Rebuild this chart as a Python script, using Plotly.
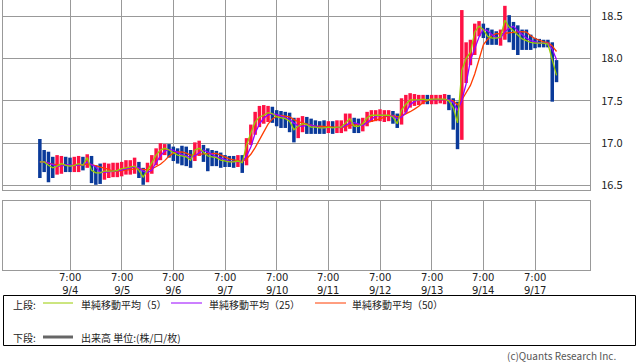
import plotly.graph_objects as go
import pandas as pd

# ---------------- data ----------------
# bar time = hours since 9/3 00:00 on a trading-time axis (weekend removed), 2-hour bars
bar_hour = list(range(17, 259, 2))

closes = [
    16.78, 16.78, 16.74, 16.71, 16.73, 16.76, 16.74, 16.73, 16.74, 16.76, 16.74, 16.83,
    16.68, 16.65, 16.65, 16.67, 16.67, 16.67, 16.68, 16.70, 16.71, 16.72, 16.73, 16.68,
    16.60, 16.68, 16.77, 16.86, 16.92, 16.94, 16.92, 16.89, 16.86, 16.85, 16.84, 16.80,
    16.92, 16.94, 16.90, 16.85, 16.84, 16.83, 16.80, 16.79, 16.78, 16.78, 16.79, 16.77,
    16.98, 17.12, 17.25, 17.31, 17.33, 17.36, 17.35, 17.31, 17.30, 17.29, 17.26, 17.16,
    17.20, 17.23, 17.22, 17.19, 17.19, 17.18, 17.18, 17.19, 17.18, 17.19, 17.19, 17.24,
    17.29, 17.20, 17.20, 17.23, 17.30, 17.33, 17.33, 17.33, 17.33, 17.33, 17.31, 17.23,
    17.39, 17.46, 17.51, 17.51, 17.51, 17.52, 17.51, 17.52, 17.52, 17.52, 17.52, 17.50,
    17.42, 17.24, 17.86, 18.00, 18.07, 18.31, 18.38, 18.34, 18.26, 18.24, 18.24, 18.25,
    18.45, 18.37, 18.32, 18.28, 18.23, 18.21, 18.19, 18.18, 18.18, 18.18, 18.17, 17.98,
    17.80,
]
highs = [
    17.05, 16.92, 16.90, 16.84, 16.86, 16.85, 16.84, 16.83, 16.84, 16.85, 16.84, 16.87,
    16.85, 16.74, 16.76, 16.77, 16.76, 16.77, 16.77, 16.78, 16.80, 16.80, 16.83, 16.78,
    16.71, 16.77, 16.86, 16.94, 17.00, 16.99, 16.99, 16.96, 16.94, 16.97, 16.96, 16.92,
    17.01, 17.03, 16.98, 16.94, 16.92, 16.91, 16.89, 16.86, 16.85, 16.85, 16.86, 16.86,
    17.06, 17.22, 17.37, 17.44, 17.45, 17.44, 17.43, 17.39, 17.38, 17.37, 17.36, 17.30,
    17.30, 17.32, 17.31, 17.29, 17.27, 17.26, 17.27, 17.26, 17.26, 17.27, 17.27, 17.35,
    17.35, 17.30, 17.29, 17.30, 17.37, 17.39, 17.39, 17.40, 17.39, 17.39, 17.38, 17.35,
    17.53, 17.57, 17.59, 17.58, 17.57, 17.57, 17.57, 17.57, 17.57, 17.57, 17.58, 17.57,
    17.53, 17.49, 18.57, 18.19, 18.22, 18.41, 18.44, 18.41, 18.36, 18.34, 18.32, 18.34,
    18.62, 18.51, 18.43, 18.39, 18.34, 18.34, 18.28, 18.24, 18.23, 18.22, 18.22, 18.19,
    17.98,
]
lows = [
    16.59, 16.66, 16.54, 16.59, 16.63, 16.64, 16.66, 16.66, 16.66, 16.66, 16.68, 16.71,
    16.53, 16.51, 16.52, 16.57, 16.59, 16.60, 16.60, 16.61, 16.63, 16.63, 16.64, 16.59,
    16.51, 16.54, 16.64, 16.74, 16.80, 16.86, 16.83, 16.79, 16.76, 16.74, 16.73, 16.71,
    16.79, 16.85, 16.78, 16.67, 16.73, 16.73, 16.71, 16.72, 16.72, 16.71, 16.72, 16.65,
    16.74, 16.98, 17.10, 17.19, 17.23, 17.25, 17.24, 17.20, 17.18, 17.18, 17.13, 17.01,
    17.06, 17.13, 17.11, 17.11, 17.11, 17.11, 17.11, 17.12, 17.11, 17.12, 17.12, 17.14,
    17.17, 17.12, 17.12, 17.14, 17.20, 17.25, 17.26, 17.26, 17.25, 17.26, 17.23, 17.18,
    17.22, 17.36, 17.42, 17.44, 17.45, 17.46, 17.46, 17.46, 17.46, 17.47, 17.46, 17.39,
    17.16, 16.93, 17.04, 17.71, 17.92, 18.04, 18.26, 18.24, 18.16, 18.16, 18.16, 18.15,
    18.22, 18.19, 18.10, 18.04, 18.10, 18.10, 18.10, 18.12, 18.13, 18.13, 18.13, 17.49,
    17.72,
]
first_open = 16.80
opens = [first_open] + closes[:-1]

assert len(closes) == len(highs) == len(lows) == len(bar_hour)

tick_hours = [31, 55, 79, 103, 127, 151, 175, 199, 223, 247]
tick_labels = ["7:00<br>9/4", "7:00<br>9/5", "7:00<br>9/6", "7:00<br>9/7", "7:00<br>9/10",
               "7:00<br>9/11", "7:00<br>9/12", "7:00<br>9/13", "7:00<br>9/14", "7:00<br>9/17"]
price_ticks = [16.5, 17.0, 17.5, 18.0, 18.5]
price_labels = ["16.5", "17.0", "17.5", "18.0", "18.5"]

ma_names = ["単純移動平均（5）", "単純移動平均（25）", "単純移動平均（50）"]
ma_windows = [1, 3, 6]          # windows expressed in 2-hour bars
ma_colors = ["#99cc00", "#9900ff", "#ff3c00"]

# ---------------- figure ----------------
W, H = 638, 362
ML, MR, MT, MB = 3, 48, 0, 92
PW, PH = W - ML - MR, H - MT - MB
def px2x(px): return (px - ML) / PW
def py2y(py): return 1 - (py - MT) / PH

RED, BLUE = "#ff1144", "#0a3a9a"
GRID = "#999999"
FONT = "Noto Sans CJK JP"
TICKFONT = "DejaVu Sans"

fig = go.Figure()
fig.add_trace(go.Ohlc(
    x=bar_hour, open=opens, high=highs, low=lows, close=closes,
    increasing=dict(line=dict(color=RED, width=3.5)),
    decreasing=dict(line=dict(color=BLUE, width=3.5)),
    tickwidth=0, xaxis="x2", yaxis="y", showlegend=False, hoverinfo="skip"))

s = pd.Series(closes)
for i in [2, 1, 0]:
    ma = s.rolling(ma_windows[i], min_periods=1).mean()
    fig.add_trace(go.Scatter(x=bar_hour, y=ma, mode="lines",
                             line=dict(color=ma_colors[i], width=1.3),
                             xaxis="x2", yaxis="y", showlegend=False, hoverinfo="skip"))

fig.add_trace(go.Scatter(x=[], y=[], xaxis="x", yaxis="y2", showlegend=False))

xr = [-0.12, 272.54]
fig.update_layout(
    width=W, height=H, margin=dict(l=ML, r=MR, t=MT, b=MB),
    paper_bgcolor="white", plot_bgcolor="white",
    font=dict(family=FONT, size=11, color="#222"),
    xaxis=dict(domain=[0, 1], anchor="y2", range=xr, tickmode="array",
               tickvals=tick_hours, showticklabels=False, showgrid=True,
               gridcolor=GRID, gridwidth=1, showline=True, mirror=True,
               linecolor=GRID, linewidth=1, zeroline=False,
               rangeslider=dict(visible=False)),
    xaxis2=dict(domain=[0, 1], anchor="y", matches="x", range=xr, tickmode="array",
                tickvals=tick_hours, showticklabels=False, showgrid=True,
                gridcolor=GRID, gridwidth=1, showline=True, mirror=True,
                linecolor=GRID, linewidth=1, zeroline=False,
                rangeslider=dict(visible=False)),
    yaxis=dict(domain=[py2y(190), 1], anchor="x2", side="right",
               range=[16.4486, 18.6886], tickmode="array", tickvals=price_ticks,
               ticktext=price_labels, showgrid=True, gridcolor=GRID, gridwidth=1,
               showline=True, mirror=True, linecolor=GRID, linewidth=1,
               zeroline=False, ticks="outside", ticklen=8,
               tickcolor="rgba(0,0,0,0)",
               tickfont=dict(size=11, family=FONT, color="#222")),
    yaxis2=dict(domain=[0, py2y(201)], anchor="x", range=[0, 1],
                showgrid=False, showticklabels=False, showline=True, mirror=True,
                linecolor=GRID, linewidth=1, zeroline=False),
)

shapes = [dict(type="rect", xref="paper", yref="paper",
               x0=px2x(3.5), x1=px2x(635.5), y0=py2y(295.5), y1=py2y(345.5),
               line=dict(color="black", width=1), fillcolor="rgba(0,0,0,0)")]
row1, row2 = 303, 337
line_x = [(43, 73), (171, 202), (315, 346)]
text_x = [79, 207, 350]
for (a, b), c in zip(line_x, ma_colors):
    shapes.append(dict(type="line", xref="paper", yref="paper",
                       x0=px2x(a), x1=px2x(b), y0=py2y(row1), y1=py2y(row1),
                       line=dict(color=c, width=1)))
shapes.append(dict(type="line", xref="paper", yref="paper",
                   x0=px2x(43), x1=px2x(73), y0=py2y(row2), y1=py2y(row2),
                   line=dict(color="#666666", width=3)))

anns = []
def txt(s, px, py, size=10, color="#222", anchor="left"):
    anns.append(dict(text=s, xref="paper", yref="paper", x=px2x(px), y=py2y(py),
                     xanchor=anchor, yanchor="middle", showarrow=False,
                     font=dict(family=FONT, size=size, color=color)))

# x-axis tick labels (two rows) placed at the axis tick values
for hv, lab in zip(tick_hours, tick_labels):
    anns.append(dict(text=lab, xref="x", yref="paper", x=hv, y=py2y(283.5),
                     xanchor="center", yanchor="middle", showarrow=False, borderpad=0,
                     font=dict(family=TICKFONT, size=10, color="#222")))

txt("上段:", 11, row1 + 1)
for name, tx in zip(ma_names, text_x):
    txt(name, tx, row1 + 1)
txt("下段:", 11, row2)
txt("出来高 単位:(株/口/枚)", 79, row2)
txt("(c)Quants Research Inc.", 618, 355.5, size=10, color="#555", anchor="right")

fig.update_layout(shapes=shapes, annotations=anns)
fig.write_html("out.html")
